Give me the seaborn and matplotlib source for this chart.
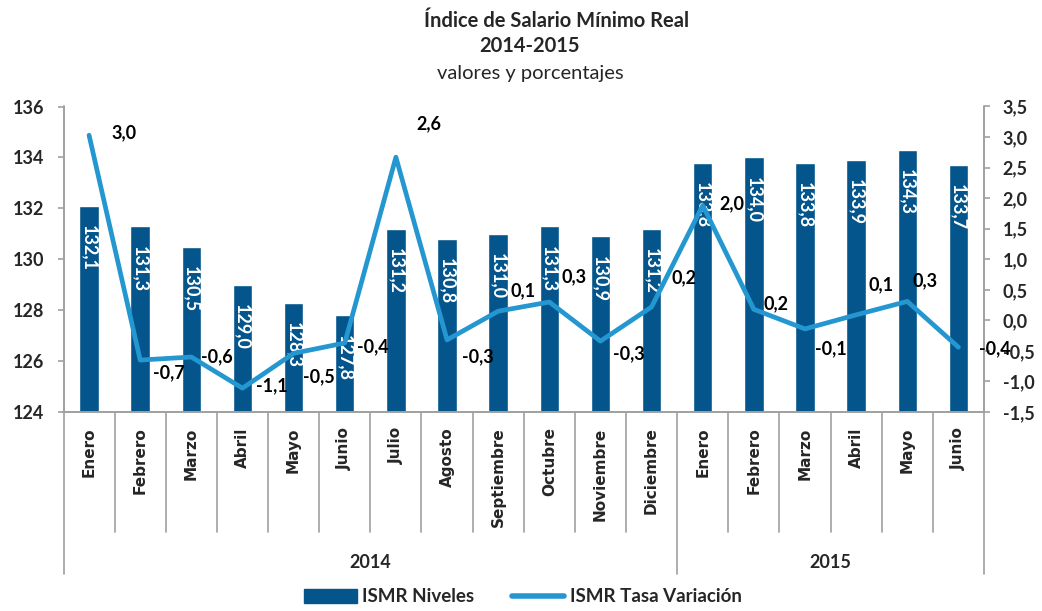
import numpy as np
import pandas as pd
import seaborn as sns
import matplotlib.pyplot as plt
from matplotlib.lines import Line2D
from matplotlib.patches import Patch
import matplotlib.transforms as mtransforms

# data
meses = ['Enero', 'Febrero', 'Marzo', 'Abril', 'Mayo', 'Junio', 'Julio', 'Agosto',
         'Septiembre', 'Octubre', 'Noviembre', 'Diciembre',
         'Enero', 'Febrero', 'Marzo', 'Abril', 'Mayo', 'Junio']
anios = ['2014'] * 12 + ['2015'] * 6
niveles = [132.1, 131.3, 130.5, 129.0, 128.3, 127.8, 131.2, 130.8, 131.0, 131.3,
           130.9, 131.2, 133.8, 134.0, 133.8, 133.9, 134.3, 133.7]
# line position as drawn, and the data labels as printed
tasa = [3.03, -0.65, -0.60, -1.11, -0.54, -0.37, 2.67, -0.32, 0.15, 0.30,
        -0.34, 0.22, 1.88, 0.18, -0.14, 0.09, 0.31, -0.44]
tasa_txt = ['3,0', '-0,7', '-0,6', '-1,1', '-0,5', '-0,4', '2,6', '-0,3', '0,1', '0,3',
            '-0,3', '0,2', '2,0', '0,2', '-0,1', '0,1', '0,3', '-0,4']

# label offsets (points) for the line labels
lbl_dx = [16, 9, 7, 10, 7, 9, 15, 11, 9, 9, 9, 14, 12, 7, 7, 9, 4, 15]
lbl_dy = [1.5, -9, 0, 2, -17, -3, 24, -12, 15, 18, -9, 21, 1.5, 4, -14, 22, 15, -1]

bar_color = '#03558C'
line_color = '#2597D0'
spine_color = '#A0A0A0'

sns.set_style('white')
plt.rcParams['font.family'] = ['Lato', 'DejaVu Sans']

df = pd.DataFrame({'pos': np.arange(len(niveles)), 'nivel': niveles, 'tasa': tasa,
                   'key': [m + ' ' + a for m, a in zip(meses, anios)]})

fig = plt.figure(figsize=(10.42, 6.11), dpi=100)
ax = fig.add_axes([63.5 / 1042, 1 - 412 / 611, (984 - 63.5) / 1042, (412 - 106.5) / 611])

sns.barplot(data=df, x='key', y='nivel', color=bar_color, width=0.38,
            saturation=1, ax=ax, order=df['key'])
ax.set_ylim(124, 136)
ax.set_xlim(-0.5, len(niveles) - 0.5)
ax.set_yticks(np.arange(124, 137, 2))
ax.set_yticklabels([str(v) for v in range(124, 137, 2)], fontsize=13, fontweight='bold')
ax.set_xlabel('')
ax.set_ylabel('')

for i, v in enumerate(niveles):
    ax.annotate(f'{v:.1f}'.replace('.', ','), (i, v), xytext=(0, -14),
                textcoords='offset points', ha='center', va='top', rotation=-90,
                color='white', fontsize=13, fontweight='bold')

ax2 = ax.twinx()
sns.lineplot(data=df, x='pos', y='tasa', color=line_color, lw=3.4, ax=ax2)
ax2.set_ylim(-1.5, 3.5)
ax2.set_xlim(-0.5, len(niveles) - 0.5)
ax2.set_yticks(np.arange(-1.5, 3.51, 0.5))
ax2.set_yticklabels([f'{v:.1f}'.replace('.', ',') for v in np.arange(-1.5, 3.51, 0.5)],
                    fontsize=13, fontweight='bold')
ax2.set_ylabel('')
ax2.set_xlabel('')

for i, v in enumerate(tasa):
    ax2.annotate(tasa_txt[i], (i, v), xytext=(lbl_dx[i], lbl_dy[i]),
                 textcoords='offset points', ha='left', va='center',
                 color='black', fontsize=13, fontweight='bold')

# spines and ticks
for a in (ax, ax2):
    for s in a.spines.values():
        s.set_color(spine_color)
        s.set_linewidth(1.2)
    a.spines['top'].set_visible(False)
ax.tick_params(axis='y', length=4.5, width=1.2, color=spine_color, left=True, pad=9.5)
ax2.tick_params(axis='y', length=4.5, width=1.2, color=spine_color, right=True, pad=9)

# two-level category axis
ax.set_xticks(df['pos'])
ax.set_xticklabels(meses, rotation=90, fontsize=11, fontweight='bold',
                   family='DejaVu Sans')
ax.tick_params(axis='x', length=0, pad=11)

trans = mtransforms.blended_transform_factory(ax.transData, ax.transAxes)
month_bottom = -0.393
year_bottom = -0.53
for k in range(len(niveles) + 1):
    x = k - 0.5
    y1 = year_bottom if k in (0, 12, len(niveles)) else month_bottom
    ax.add_line(Line2D([x, x], [0, y1], transform=trans, color=spine_color,
                       lw=1.2, clip_on=False))
ax.text(5.5, -0.491, '2014', transform=trans, ha='center', va='center',
        fontsize=13, fontweight='bold')
ax.text(14.5, -0.491, '2015', transform=trans, ha='center', va='center',
        fontsize=13, fontweight='bold')

# titles
fig.text(557 / 1042, 1 - 21 / 611, 'Índice de Salario Mínimo Real', ha='center',
         va='center', fontsize=14.5, fontweight='bold')
fig.text(529 / 1042, 1 - 46 / 611, '2014-2015', ha='center', va='center',
         fontsize=14.5, fontweight='bold')
fig.text(530 / 1042, 1 - 74 / 611, 'valores y porcentajes', ha='center', va='center',
         fontsize=14.5)

handles = [Patch(color=bar_color, label='ISMR Niveles'),
           Line2D([], [], color=line_color, lw=4, label='ISMR Tasa Variación')]
leg = fig.legend(handles=handles, loc='center', bbox_to_anchor=(523 / 1042, 1 - 597 / 611),
                 ncol=2, frameon=False, handlelength=2.8, handletextpad=0.3,
                 columnspacing=2.0, prop={'weight': 'bold', 'size': 13.5})

fig.savefig('out.png', dpi=100)
